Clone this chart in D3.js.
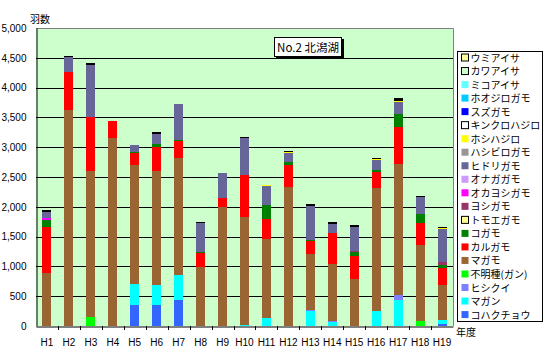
<!DOCTYPE html>
<html><head><meta charset="utf-8">
<script src="https://cdn.jsdelivr.net/npm/d3@7"></script>
<style>body{margin:0;background:#fff}svg{display:block}</style>
</head><body><svg id="c" width="545" height="360"></svg>
<script>
const years = ["H1","H2","H3","H4","H5","H6","H7","H8","H9","H10","H11","H12","H13","H14","H15","H16","H17","H18","H19"];
const yTicks = [0,500,1000,1500,2000,2500,3000,3500,4000,4500,5000];
// series values (bottom of stack first)
const kohakucho   = [0,0,0,0,353,353,442,0,0,0,0,0,0,0,0,0,0,0,39];
const magan       = [0,0,0,0,352,336,415,0,0,15,140,0,252,73,0,252,442,0,67];
const hishikui    = [0,0,0,0,0,0,0,0,0,0,0,0,17,14,0,0,79,0,0];
const fumeiGan    = [0,0,155,0,0,0,0,0,0,0,0,0,0,0,0,0,0,84,0];
const magamo      = [895,3630,2450,3160,2000,1914,1970,997,2004,1820,1321,2340,940,954,789,2071,2200,1276,583];
const karugamo    = [763,640,910,280,196,403,269,224,151,705,336,364,219,516,392,265,610,375,290];
const kogamo      = [122,0,0,0,12,51,28,27,0,0,241,56,16,0,62,33,230,151,45];
const tomoegamo   = [0,0,0,0,0,0,0,0,0,0,0,0,0,0,0,0,0,0,0];
const yoshigamo   = [0,0,0,0,0,0,0,0,0,0,0,0,0,0,17,0,0,0,51];
const okayoshigamo= [25,0,0,0,0,0,0,0,0,0,0,0,0,0,0,0,0,0,0];
const onagagamo   = [0,0,0,0,0,0,0,0,0,0,0,0,0,0,0,0,0,0,0];
const hidorigamo  = [106,245,870,0,118,168,605,487,420,617,319,146,571,156,403,163,201,286,554];
const hashibirogamo=[0,0,0,0,0,0,0,0,0,0,0,0,0,0,0,0,0,0,0];
const hoshihajiro = [0,0,0,0,8,0,0,0,0,0,13,20,0,0,0,22,17,0,17];
const kinkurohajiro=[33,20,35,0,0,33,0,17,0,12,0,15,34,34,33,17,50,16,17];
const suzugamo    = [0,0,0,0,0,0,0,0,0,0,0,0,0,0,0,0,0,0,0];
const hoojirogamo = [0,0,0,0,0,0,0,0,0,0,0,0,0,0,0,0,0,0,0];
const mikoaisa    = [0,0,0,0,0,0,0,0,0,0,0,0,0,0,0,0,0,0,0];
const kawaaisa    = [0,0,0,0,0,0,0,0,0,0,0,0,0,0,0,0,0,0,0];
const umiaisa     = [0,0,0,0,0,0,0,0,0,0,0,0,0,0,0,0,0,0,0];

const seriesNames = ["コハクチョウ","マガン","ヒシクイ","不明種(ガン)","マガモ","カルガモ","コガモ","トモエガモ","ヨシガモ","オカヨシガモ","オナガガモ","ヒドリガモ","ハシビロガモ","ホシハジロ","キンクロハジロ","スズガモ","ホオジロガモ","ミコアイサ","カワアイサ","ウミアイサ"];
const seriesValues = [kohakucho,magan,hishikui,fumeiGan,magamo,karugamo,kogamo,tomoegamo,yoshigamo,okayoshigamo,onagagamo,hidorigamo,hashibirogamo,hoshihajiro,kinkurohajiro,suzugamo,hoojirogamo,mikoaisa,kawaaisa,umiaisa];
const seriesColors = ["#3366FF","#00FFFF","#8080FF","#00FF00","#996633","#FF0000","#008000","#FFFF99","#993366","#FF00FF","#CC99FF","#666699","#969696","#FFFF00","#FFFFFF","#0000FF","#00CCFF","#66FFFF","#CCFFCC","#FFFF99"];
const seriesBorder = [false,false,false,false,false,false,false,true,false,false,false,false,false,false,true,false,false,false,true,true];

const svg = d3.select("#c");
const font = "'Noto Sans CJK JP','Noto Sans',sans-serif";
const L = 36, R = 453, T = 28, B = 326;

const rows = years.map((y,i)=>{const o={year:y}; seriesNames.forEach((n,k)=>o[n]=seriesValues[k][i]); return o;});
const stack = d3.stack().keys(seriesNames)(rows);

const x = d3.scaleBand().domain(years).range([L,R]).paddingInner(0.59).paddingOuter(0.295);
const y = d3.scaleLinear().domain([0,5000]).range([B,T]);

// plot background
svg.append("rect").attr("x",L).attr("y",T).attr("width",R-L).attr("height",B-T).attr("fill","#CCFFCC");
// gridlines
svg.append("g").selectAll("line").data(yTicks.filter(d=>d>0&&d<5000)).join("line")
  .attr("x1",L).attr("x2",R).attr("y1",d=>Math.round(y(d))+0.5).attr("y2",d=>Math.round(y(d))+0.5)
  .attr("stroke","#000").attr("stroke-width",1);
// top & right border (grey)
svg.append("path").attr("d",`M${L},${T+0.5}H${R+0.5}V${B}`).attr("fill","none").attr("stroke","#808080");

// bars (thin white-with-border segments render as dark caps, as in the original)
svg.append("g").selectAll("g").data(stack).join("g")
  .attr("fill",(d,i)=>seriesBorder[i]?"#000":seriesColors[i])
  .selectAll("rect").data(d=>d.filter(s=>s[1]-s[0]>0)).join("rect")
  .attr("x",d=>x(d.data.year)).attr("width",x.bandwidth())
  .attr("y",d=>y(d[1])).attr("height",d=>Math.max(0,y(d[0])-y(d[1])))
  .attr("shape-rendering","crispEdges");

// y axis
const yAxis = svg.append("g").attr("transform",`translate(${L+0.5},0)`)
  .call(d3.axisLeft(y).tickValues(yTicks).tickFormat(d3.format(",")).tickSize(0).tickPadding(10));
yAxis.select(".domain").attr("stroke","#000");
yAxis.selectAll("text").attr("font-family","'Liberation Sans',Arial,sans-serif").attr("font-size",10).attr("fill","#000");

// x axis
const xAxis = svg.append("g").attr("transform",`translate(0,${B+0.5})`)
  .call(d3.axisBottom(x).tickSize(0).tickPadding(12));
xAxis.select(".domain").attr("stroke","#000");
xAxis.selectAll("text").attr("font-family","'Liberation Sans',Arial,sans-serif").attr("font-size",10).attr("fill","#000");
// category separator ticks
svg.append("g").selectAll("line").data(years.slice(1)).join("line")
  .attr("x1",d=>Math.round(x(d)-x.step()*x.paddingInner()/2)+0.5)
  .attr("x2",d=>Math.round(x(d)-x.step()*x.paddingInner()/2)+0.5)
  .attr("y1",B).attr("y2",B+4).attr("stroke","#000");

// axis titles
svg.append("text").attr("x",30).attr("y",23).text("羽数").attr("font-family",font).attr("font-size",10);
svg.append("text").attr("x",456).attr("y",336).text("年度").attr("font-family",font).attr("font-size",10);

// title box
svg.append("rect").attr("x",276).attr("y",39).attr("width",68).attr("height",20).attr("fill","#000");
svg.append("rect").attr("x",274.5).attr("y",37.5).attr("width",67).attr("height",19).attr("fill","#fff").attr("stroke","#000");
svg.append("text").attr("x",308).attr("y",51.5).attr("text-anchor","middle").text("No.2 北潟湖")
  .attr("font-family",font).attr("font-size",11.5);

// legend
const lg = svg.append("g");
lg.append("rect").attr("x",457.5).attr("y",51.5).attr("width",85).attr("height",270).attr("fill","#fff").attr("stroke","#000");
const legendOrder = d3.range(seriesNames.length).reverse();
const li = lg.selectAll("g.it").data(legendOrder).join("g").attr("class","it")
  .attr("transform",(d,i)=>`translate(0,${57.5+i*13.53})`);
li.append("rect").attr("x",461.5).attr("y",-3.5).attr("width",7).attr("height",7)
  .attr("fill",d=>seriesColors[d]).attr("stroke",d=>seriesBorder[d]?"#000":"none");
li.append("text").attr("x",470.5).attr("y",4).text(d=>seriesNames[d])
  .attr("font-family",font).attr("font-size",10);
</script></body></html>
